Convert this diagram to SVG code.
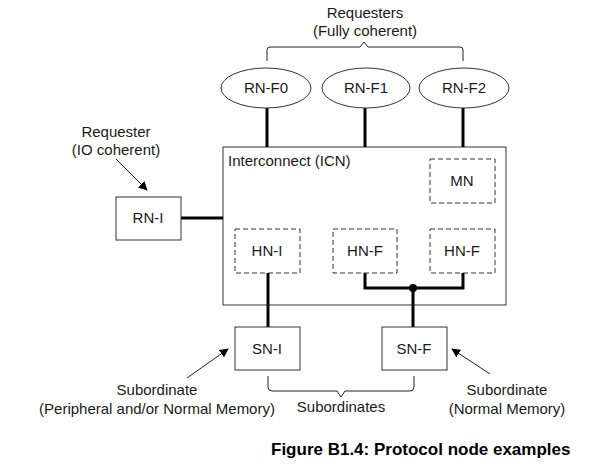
<svg xmlns="http://www.w3.org/2000/svg" width="600" height="467" viewBox="0 0 600 467">
<defs>
<marker id="ah" viewBox="0 0 10 10" refX="9" refY="5" markerWidth="9" markerHeight="9" markerUnits="userSpaceOnUse" orient="auto">
<path d="M0,0 L10,5 L0,10 z" fill="#000"/>
</marker>
<style>
text{font-family:"Liberation Sans",Arial,sans-serif;font-size:15px;fill:#1a1a1a}
.c{text-anchor:middle}
.box{fill:#fff;stroke:#333;stroke-width:1}
.dash{fill:none;stroke:#333;stroke-width:1;stroke-dasharray:5,3}
.thick{fill:none;stroke:#000;stroke-width:3}
.thin{fill:none;stroke:#222;stroke-width:1}
.cap{font-weight:bold;font-size:17px;fill:#000}
</style>
</defs>
<rect width="600" height="467" fill="#fff"/>

<g id="icn">
<rect class="box" x="223" y="147" width="283" height="158"/>
<text x="228" y="166">Interconnect (ICN)</text>
</g>

<g id="connectors">
<line class="thick" x1="267" y1="108" x2="267" y2="147"/>
<line class="thick" x1="365" y1="108" x2="365" y2="147"/>
<line class="thick" x1="463" y1="108" x2="463" y2="147"/>
<line class="thick" x1="181" y1="218" x2="223" y2="218"/>
<line class="thick" x1="268" y1="273" x2="268" y2="327"/>
<polyline class="thick" points="365,273 365,288 463,288 463,273"/>
<line class="thick" x1="413" y1="288" x2="413" y2="327"/>
<circle cx="413" cy="288" r="4" fill="#000"/>
<line class="thin" x1="116" y1="159" x2="147" y2="190" marker-end="url(#ah)"/>
<line class="thin" x1="187" y1="378" x2="228" y2="349" marker-end="url(#ah)"/>
<line class="thin" x1="490" y1="374" x2="452" y2="349" marker-end="url(#ah)"/>
<path class="thin" d="M267,61 V50 Q267,47 270,47 H360 L364,42 L368,47 H460 Q463,47 463,50 V61"/>
<path class="thin" d="M268,376 V387 Q268,391 272,391 H337 L341,397 L345,391 H410 Q414,391 414,387 V376"/>
</g>

<g id="rn-f0">
<ellipse class="box" cx="266" cy="88" rx="45" ry="20"/>
<text class="c" x="266" y="93">RN-F0</text>
</g>
<g id="rn-f1">
<ellipse class="box" cx="366" cy="88" rx="44" ry="20"/>
<text class="c" x="366" y="93">RN-F1</text>
</g>
<g id="rn-f2">
<ellipse class="box" cx="464" cy="88" rx="45" ry="20"/>
<text class="c" x="464" y="93">RN-F2</text>
</g>
<g id="requesters-label">
<text class="c" x="365" y="18">Requesters</text>
<text class="c" x="365" y="36">(Fully coherent)</text>
</g>

<g id="rn-i">
<rect class="box" x="116" y="197" width="65" height="43"/>
<text class="c" x="148" y="223">RN-I</text>
</g>
<g id="requester-io-label">
<text class="c" x="116" y="137">Requester</text>
<text class="c" x="116" y="155">(IO coherent)</text>
</g>

<g id="mn">
<rect class="dash" x="430" y="159" width="65" height="44"/>
<text class="c" x="462" y="186">MN</text>
</g>
<g id="hn-i">
<rect class="dash" x="235" y="229" width="65" height="44"/>
<text class="c" x="267" y="256">HN-I</text>
</g>
<g id="hn-f0">
<rect class="dash" x="333" y="229" width="64" height="44"/>
<text class="c" x="365" y="256">HN-F</text>
</g>
<g id="hn-f1">
<rect class="dash" x="430" y="229" width="65" height="44"/>
<text class="c" x="462" y="256">HN-F</text>
</g>

<g id="sn-i">
<rect class="box" x="235" y="327" width="65" height="43"/>
<text class="c" x="267" y="354">SN-I</text>
</g>
<g id="sn-f">
<rect class="box" x="382" y="327" width="65" height="43"/>
<text class="c" x="414" y="354">SN-F</text>
</g>

<g id="labels">
<text class="c" x="157" y="395">Subordinate</text>
<text class="c" x="157" y="414">(Peripheral and/or Normal Memory)</text>
<text class="c" x="341" y="412">Subordinates</text>
<text class="c" x="507" y="395">Subordinate</text>
<text class="c" x="507" y="414">(Normal Memory)</text>
<text class="cap" x="271" y="455">Figure B1.4: Protocol node examples</text>
</g>
</svg>
